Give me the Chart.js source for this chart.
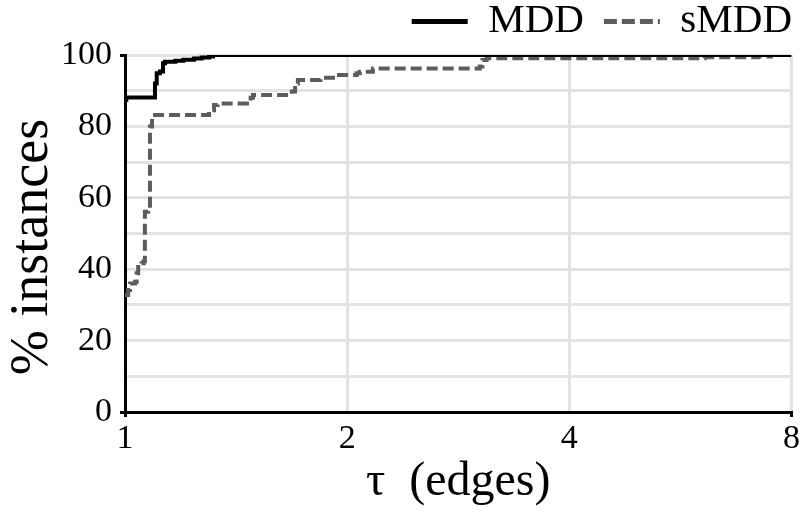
<!DOCTYPE html>
<html><head><meta charset="utf-8">
<script src="https://cdn.jsdelivr.net/npm/chart.js@4/dist/chart.umd.min.js"></script>
<style>html,body{margin:0;padding:0;background:#fff}#wrap{width:802px;height:511px}</style>
</head><body><div id="wrap"><canvas id="c" width="802" height="511"></canvas></div>
<script>
// ---- data ----
const seriesNames = ['MDD', 'sMDD'];
const mddTau = [1, 1.004, 1.098, 1.104, 1.115, 1.126, 1.133, 1.17, 1.2, 1.24, 1.27, 1.3, 1.316, 8];
const mddPct = [87.4, 88.1, 92.0, 94.9, 95.4, 97.7, 98.1, 98.4, 98.7, 99.0, 99.3, 99.6, 100, 100];
const smddTau = [1, 1.01, 1.016, 1.032, 1.037, 1.042, 1.053, 1.06, 1.064, 1.075, 1.081, 1.088, 1.30, 1.32, 1.335, 1.463, 1.48, 1.491, 1.683, 1.70, 1.715, 1.84, 1.95, 2.06, 2.08, 2.167, 3.025, 3.05, 3.09, 6.1, 7.2, 7.5, 8];
const smddPct = [32.8, 34.2, 36.0, 36.5, 38.9, 41.2, 41.7, 42.2, 56.1, 56.6, 80.0, 83.2, 84.5, 86.0, 86.4, 87.0, 88.0, 88.8, 89.8, 92.0, 93.0, 93.6, 94.4, 94.9, 95.3, 96.2, 96.8, 98.6, 99.1, 99.4, 99.6, 100, 100];
const xTicks = [1, 2, 4, 8];
const yTicks = [0, 20, 40, 60, 80, 100];
const xTitle = 'τ  (edges)';
const yTitle = '% instances  ';

const toPts = (xs, ys) => xs.map((x, i) => ({x: x, y: ys[i]}));
const FONT = "'Liberation Serif', 'Times New Roman', serif";
const GRID = '#e3e3e3';

const legendAdjust = {
  id: 'legendAdjust',
  beforeInit(chart) {
    const lg = chart.legend;
    if (!lg) return;
    const fit = lg.fit.bind(lg);
    lg.fit = function () { fit(); this.height = 55; };
    const draw = lg.draw.bind(lg);
    lg.draw = function () {
      const c = this.ctx; c.save(); c.translate(20, -19); draw(); c.restore();
    };
  }
};

new Chart(document.getElementById('c'), {
  type: 'line',
  data: {
    datasets: [
      { label: seriesNames[0], data: toPts(mddTau, mddPct), stepped: 'before',
        borderColor: '#000', backgroundColor: '#000', borderWidth: 4,
        pointRadius: 0, fill: false },
      { label: seriesNames[1], data: toPts(smddTau, smddPct), stepped: 'before',
        borderColor: '#5c5c5c', backgroundColor: '#5c5c5c', borderWidth: 4,
        borderDash: [11, 5], pointRadius: 0, fill: false }
    ]
  },
  options: {
    responsive: false, animation: false, devicePixelRatio: 1,
    layout: { padding: { left: 0, right: 10, top: 0, bottom: 0 } },
    plugins: {
      tooltip: { enabled: false },
      legend: {
        position: 'top', align: 'end',
        labels: { usePointStyle: true, pointStyle: 'line', pointStyleWidth: 56,
          padding: 20, color: '#000', font: { family: FONT, size: 41 },
          generateLabels: chart => Chart.defaults.plugins.legend.labels.generateLabels(chart).map((it, i) => {
            const ds = chart.data.datasets[i];
            return Object.assign(it, { lineDash: ds.borderDash ? [13, 5] : [], lineWidth: 5,
              strokeStyle: ds.borderColor, fillStyle: ds.borderColor });
          }) }
      }
    },
    scales: {
      x: {
        type: 'logarithmic', min: 1, max: 8,
        afterBuildTicks: s => { s.ticks = xTicks.map(v => ({ value: v })); },
        afterFit: s => { s.height = 99; },
        ticks: { autoSkip: false, maxRotation: 0, padding: 2, color: '#000',
          font: { family: FONT, size: 34 }, callback: v => String(v) },
        grid: { color: GRID, lineWidth: 3, drawTicks: true, tickLength: 5, tickWidth: 3,
          tickColor: c => (c.tick && (c.tick.value === 1 || c.tick.value === 8)) ? '#000' : 'rgba(0,0,0,0)' },
        border: { display: true, color: '#000', width: 3 },
        title: { display: true, text: xTitle, color: '#000', padding: { top: 0, bottom: 0 },
          font: { family: FONT, size: 48 } }
      },
      y: {
        type: 'linear', min: 0, max: 100,
        afterBuildTicks: s => { s.ticks = []; for (let v = 0; v <= 100; v += 10) s.ticks.push({ value: v }); },
        afterFit: s => { s.width = 125; },
        ticks: { autoSkip: false, padding: 8, color: '#000',
          font: { family: FONT, size: 34 },
          callback: v => yTicks.includes(v) ? String(v) : '' },
        grid: { color: GRID, lineWidth: 3, drawTicks: true, tickLength: 5, tickWidth: 3,
          tickColor: c => (c.tick && (c.tick.value === 0 || c.tick.value === 100)) ? '#000' : 'rgba(0,0,0,0)' },
        border: { display: true, color: '#000', width: 3 },
        title: { display: true, text: yTitle, color: '#000', padding: { top: 0, bottom: 0 },
          font: { family: FONT, size: 54 } }
      }
    }
  },
  plugins: [legendAdjust]
});
</script></body></html>
